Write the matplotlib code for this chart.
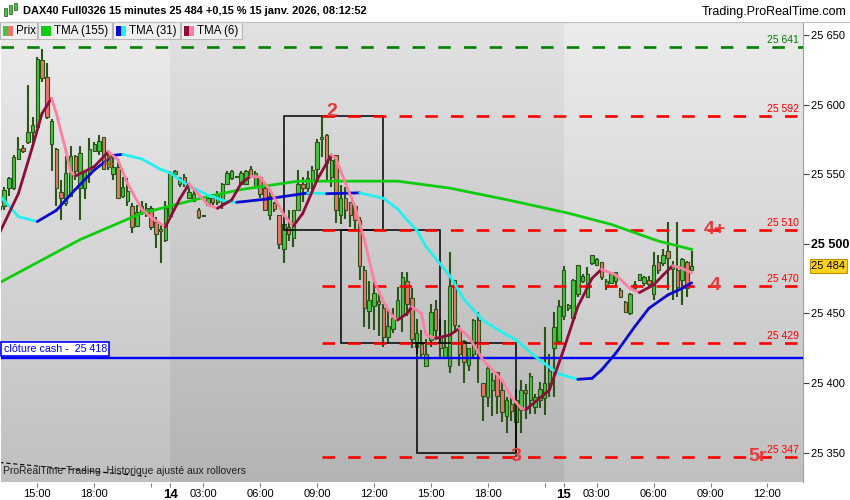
import numpy as np
import pandas as pd
import matplotlib
matplotlib.use("Agg")
import matplotlib.pyplot as plt
from matplotlib.patches import Rectangle
from matplotlib.collections import LineCollection
from matplotlib.transforms import blended_transform_factory

plt.rcParams['font.family'] = ['Liberation Sans', 'DejaVu Sans']
plt.rcParams['lines.scale_dashes'] = False

# 15 minute bars, the chart skips the closed hours (22:00 - 01:15)
def session(day, start, end):
    return list(pd.date_range("2026-01-%02d %s" % (day, start), "2026-01-%02d %s" % (day, end), freq="15min"))

bar_times = session(13, "13:00", "21:45") + session(14, "01:15", "21:45") + session(15, "01:15", "13:45")

opens = [25525, 25527, 25540, 25540, 25561, 25569, 25573, 25580, 25584, 25632,
         25620, 25572, 25568, 25537, 25529, 25534, 25563, 25540, 25540, 25551,
         25567, 25567, 25577, 25555, 25550, 25555, 25534, 25531, 25527, 25513,
         25522, 25521, 25526, 25516, 25511, 25503,
         25520, 25550, 25543, 25548, 25533, 25531, 25524, 25520, 25528, 25533,
         25530, 25529, 25543, 25547, 25548, 25543, 25543, 25554, 25541, 25548,
         25540, 25521, 25529, 25521, 25496, 25512, 25504, 25524, 25543, 25540,
         25546, 25554, 25575, 25578, 25548, 25564, 25521, 25533, 25530, 25527,
         25517, 25481, 25452, 25455, 25459, 25454, 25433, 25439, 25447, 25449,
         25473, 25461, 25426, 25428, 25412, 25431, 25453, 25433, 25419, 25412,
         25474, 25438, 25430, 25413, 25421, 25445, 25400, 25390, 25395, 25408,
         25395, 25376, 25385, 25372, 25381, 25395, 25388, 25383, 25388, 25389,
         25400, 25425, 25430,
         25448, 25454, 25447, 25464, 25473, 25462, 25486, 25485, 25487, 25469,
         25472, 25473, 25467, 25458, 25450, 25468, 25474, 25472, 25474, 25464,
         25487, 25486, 25495, 25482, 25481, 25474, 25487, 25481]
highs = [25530, 25541, 25548, 25564, 25577, 25571, 25614, 25591, 25634, 25640,
         25630, 25590, 25569, 25546, 25563, 25570, 25564, 25570, 25553, 25576,
         25573, 25578, 25577, 25566, 25563, 25559, 25548, 25547, 25529, 25528,
         25531, 25529, 25527, 25519, 25514, 25531,
         25552, 25553, 25548, 25550, 25541, 25540, 25526, 25521, 25535, 25536,
         25538, 25544, 25552, 25553, 25549, 25552, 25553, 25556, 25552, 25549,
         25544, 25538, 25530, 25521, 25514, 25524, 25524, 25553, 25548, 25552,
         25556, 25575, 25591, 25579, 25564, 25564, 25542, 25541, 25530, 25527,
         25519, 25484, 25473, 25473, 25464, 25457, 25453, 25454, 25469, 25480,
         25480, 25468, 25446, 25438, 25432, 25457, 25460, 25446, 25445, 25494,
         25474, 25442, 25431, 25425, 25446, 25451, 25400, 25412, 25407, 25408,
         25402, 25390, 25390, 25396, 25402, 25399, 25407, 25392, 25401, 25440,
         25421, 25451, 25460,
         25484, 25457, 25475, 25485, 25478, 25483, 25492, 25490, 25487, 25475,
         25480, 25480, 25468, 25459, 25465, 25473, 25478, 25477, 25477, 25494,
         25492, 25496, 25516, 25488, 25516, 25490, 25488, 25495]
lows = [25520, 25524, 25534, 25539, 25560, 25565, 25572, 25572, 25583, 25616,
        25590, 25552, 25527, 25517, 25527, 25534, 25546, 25517, 25532, 25544,
        25566, 25564, 25554, 25553, 25546, 25533, 25533, 25527, 25508, 25512,
        25521, 25519, 25510, 25497, 25486, 25501,
        25519, 25548, 25541, 25541, 25532, 25530, 25518, 25519, 25527, 25528,
        25528, 25525, 25542, 25546, 25547, 25542, 25542, 25548, 25540, 25533,
        25524, 25517, 25523, 25496, 25486, 25502, 25498, 25524, 25530, 25535,
        25539, 25546, 25562, 25545, 25541, 25515, 25514, 25518, 25512, 25510,
        25474, 25440, 25439, 25438, 25434, 25426, 25428, 25436, 25445, 25437,
        25448, 25425, 25421, 25419, 25412, 25426, 25431, 25419, 25418, 25407,
        25436, 25412, 25400, 25409, 25419, 25400, 25373, 25383, 25376, 25378,
        25372, 25364, 25373, 25347, 25364, 25374, 25378, 25378, 25382, 25377,
        25390, 25390, 25428,
        25445, 25452, 25447, 25462, 25472, 25462, 25485, 25484, 25474, 25467,
        25471, 25470, 25461, 25450, 25449, 25467, 25473, 25470, 25469, 25460,
        25478, 25484, 25467, 25460, 25462, 25456, 25462, 25481]
closes = [25527, 25539, 25547, 25562, 25568, 25567, 25580, 25585, 25633, 25619,
          25591, 25588, 25540, 25533, 25551, 25563, 25552, 25565, 25552, 25568,
          25572, 25574, 25554, 25562, 25555, 25533, 25541, 25538, 25512, 25523,
          25527, 25526, 25512, 25507, 25509, 25526,
          25551, 25552, 25547, 25543, 25537, 25536, 25519, 25520, 25533, 25530,
          25535, 25543, 25551, 25552, 25548, 25551, 25552, 25549, 25551, 25536,
          25524, 25534, 25525, 25500, 25514, 25507, 25524, 25543, 25540, 25547,
          25553, 25573, 25577, 25558, 25560, 25524, 25533, 25524, 25521, 25517,
          25484, 25454, 25460, 25465, 25457, 25433, 25441, 25447, 25460, 25476,
          25457, 25432, 25436, 25421, 25421, 25451, 25438, 25425, 25426, 25470,
          25442, 25421, 25415, 25425, 25445, 25421, 25391, 25411, 25402, 25391,
          25379, 25388, 25380, 25388, 25395, 25393, 25405, 25390, 25396, 25400,
          25409, 25440, 25455,
          25481, 25456, 25474, 25485, 25477, 25478, 25492, 25489, 25476, 25473,
          25478, 25480, 25462, 25451, 25464, 25471, 25478, 25476, 25471, 25485,
          25481, 25492, 25490, 25484, 25469, 25489, 25468, 25484]

# moving averages (bar index, value)
tma155_i = [0, 17, 30, 44, 51, 63, 67, 84, 95, 108, 120, 129, 139, 146]
tma155_v = [25472, 25503, 25522, 25534, 25539, 25545, 25545, 25545, 25540, 25531,
            25522, 25514, 25502, 25496]
tma31_i = [0, 4, 8, 12, 16, 20, 24, 26, 30, 34, 36, 40, 44, 48, 50, 56, 60, 65, 69,
           76, 81, 84, 86, 88, 90, 95, 98, 102, 107, 109, 113, 118, 122, 125, 127,
           130, 134, 137, 141, 144, 146]
tma31_v = [25535, 25519.5, 25516, 25524, 25539, 25553, 25563.5, 25564.3, 25561,
           25553.5, 25551, 25541.5, 25535, 25530.3, 25529.8, 25532, 25534, 25536.5,
           25536, 25536.6, 25532.7, 25525, 25517, 25510, 25498, 25477, 25460, 25445,
           25434.5, 25431, 25419, 25406.5, 25402.7, 25403.4, 25409.4, 25421.4,
           25440.5, 25453.7, 25463.3, 25468, 25472]
tma6_i = [0, 4, 7, 9, 11, 12, 14, 15, 16, 20, 23, 25, 27, 30, 32, 35, 38, 40, 42, 44,
          46, 49, 51, 53, 55, 57, 60, 62, 64, 67, 70, 71, 73, 75, 77, 79, 81, 83, 84,
          86, 87, 89, 90, 92, 95, 97, 99, 102, 106, 108, 110, 111, 116, 119, 122,
          125, 127, 130, 133, 135, 138, 140, 142, 144, 146]
tma6_v = [25507.6, 25536, 25570, 25593.7, 25604.5, 25593.7, 25567.4, 25551.8,
          25548.7, 25555.4, 25566.2, 25560.2, 25543.5, 25525, 25519, 25512, 25532,
          25543, 25535.5, 25528, 25525.5, 25531.5, 25543.5, 25548.5, 25548, 25539,
          25520.7, 25512.8, 25521.9, 25545.8, 25563.8, 25561.4, 25543.5, 25526.7,
          25502.8, 25474, 25458.5, 25447.7, 25445.3, 25450, 25454.9, 25450,
          25434.5, 25432.1, 25434.5, 25439.3, 25433.3, 25416.6, 25402.2, 25390,
          25382, 25380.8, 25395, 25423.8, 25454.9, 25475.2, 25481.7, 25477.6,
          25468, 25465, 25470.5, 25477.6, 25484.3, 25482.4, 25479.3]

# horizontal levels drawn on the chart
red_levels = [25592, 25510, 25470, 25429, 25347]
red_start = 68
green_level = 25641
cash_level = 25418
last_price = 25484
# boxes: (first bar, last bar, top, bottom)
boxes = [(60, 81, 25592, 25510), (72, 93, 25510, 25429), (88, 109, 25429, 25350)]
marks = [("2", 70, 25592), ("3", 109, 25347), ("4+", 151, 25510), ("4", 151, 25470), ("5r", 160, 25347)]
trend_x = [0, 31]
trend_y = [25343, 25333]

W, H = 850, 500
fig = plt.figure(figsize=(W / 100, H / 100), dpi=100)
fig.patch.set_facecolor("white")
ax = fig.add_axes([1 / W, 1 - 482.5 / H, 802 / W, 460.5 / H])
ymin, ymax = 25328.6, 25659.3
xmin, xmax = 0.34, 169.5
ax.set_xlim(xmin, xmax)
ax.set_ylim(ymin, ymax)

# day zones with vertical gradient
days = [t.day for t in bar_times]
starts = [0] + [k for k in range(1, len(days)) if days[k] != days[k - 1]]
edges = [xmin] + starts[1:] + [xmax]
for z in range(len(edges) - 1):
    if z % 2 == 0:
        top, bot = np.array([236, 236, 236]), np.array([192, 192, 192])
    else:
        top, bot = np.array([226, 226, 226]), np.array([180, 180, 180])
    t = np.linspace(0, 1, 200)[:, None]
    grad = (top * (1 - t) + bot * t) / 255.0
    ax.imshow(grad[:, None, :], extent=[edges[z], edges[z + 1], ymin, ymax],
              aspect="auto", origin="upper", zorder=0, interpolation="bilinear")

idx = np.arange(len(closes))
o = np.array(opens, float)
c = np.array(closes, float)
dark = "#2b5418"
ax.vlines(idx, lows, highs, color=dark, lw=1.5, zorder=3)
body_col = np.where(c >= o, "#45c43f", "#e8766c")
ax.bar(idx, np.maximum(np.abs(c - o), 0.8), bottom=np.minimum(o, c), width=0.72,
       color=body_col, edgecolor=dark, linewidth=0.8, zorder=3.1)

# levels
ax.plot([xmin, xmax], [green_level, green_level], color="#008000", lw=1.9, dashes=(9, 9.5), zorder=4)
for lv in red_levels:
    ax.plot([red_start, xmax], [lv, lv], color="#ff0000", lw=1.9, dashes=(9, 9.5), zorder=4)
ax.axhline(cash_level, color="#0000ff", lw=1.7, zorder=4)
ax.plot(trend_x, trend_y, color="black", lw=0.8, dashes=(3, 2), zorder=4)

for b0, b1, top_, bot_ in boxes:
    ax.add_patch(Rectangle((b0, bot_), b1 - b0, top_ - bot_, fill=False, ec="black", lw=1.1, zorder=3.5))

def colored(ix, vals, up, down, lw):
    pts = np.column_stack([ix, vals])
    segs = np.stack([pts[:-1], pts[1:]], axis=1)
    cols = [up if vals[k + 1] >= vals[k] else down for k in range(len(vals) - 1)]
    ax.add_collection(LineCollection(segs, colors=cols, linewidths=lw, capstyle="round", zorder=5))

ax.plot(tma155_i, tma155_v, color="#10cc10", lw=2.0, zorder=5)
colored(tma31_i, tma31_v, "#0a0ad0", "#22f0f0", 2.0)
colored(tma6_i, tma6_v, "#8c0c3a", "#ff7fa0", 2.0)

# texts on the chart
bt = blended_transform_factory(ax.transAxes, ax.transData)
for lv in red_levels:
    ax.annotate("%d %03d" % (lv // 1000, lv % 1000), (0.995, lv), xycoords=bt, xytext=(0, 1.5),
                textcoords="offset points", ha="right", va="bottom", fontsize=7.5, color="#ff0000", zorder=6)
ax.annotate("%d %03d" % (green_level // 1000, green_level % 1000), (0.995, green_level), xycoords=bt,
            xytext=(0, 1.5), textcoords="offset points", ha="right", va="bottom", fontsize=7.5,
            color="#008000", zorder=6)
for txt, bx, lv in marks:
    dy = 3 if txt == "2" else 0
    ax.annotate(txt, (bx, lv), xytext=(0, dy), textcoords="offset points", ha="center", va="center",
                fontsize=14, fontweight="bold", color="#e53838", zorder=7)
ax.text(23, 25558, "4", ha="center", va="center", fontsize=14, fontweight="bold",
        color="#b0581a", alpha=0.85, zorder=7)
ax.annotate("clôture cash -  %d %03d" % (cash_level // 1000, cash_level % 1000), (0.0, cash_level),
            xycoords=bt, xytext=(2, 2.8), textcoords="offset points", ha="left", va="bottom",
            fontsize=7.7, color="#0000ff", zorder=8,
            bbox=dict(boxstyle="square,pad=0.22", fc="white", ec="#0000ff", lw=1.2))
ax.text(0.003, 0.014, "ProRealTime Trading  Historique ajusté aux rollovers", transform=ax.transAxes,
        fontsize=7.5, color="#202020", ha="left", va="bottom", zorder=8)

# axes
for s in ["top", "left", "bottom"]:
    ax.spines[s].set_visible(False)
ax.spines["right"].set_color("#a0a0a0")
ax.yaxis.tick_right()
yt = np.arange(25350, 25651, 50)
ax.set_yticks(yt)
ax.set_yticklabels(["%d %03d" % (v // 1000, v % 1000) for v in yt])
ax.tick_params(axis="y", length=4, width=0.8, color="#404040", labelsize=8, pad=2)
for lab, v in zip(ax.get_yticklabels(), yt):
    if v == 25500:
        lab.set_fontweight("bold")
        lab.set_fontsize(9)
ax.annotate("%d %03d" % (last_price // 1000, last_price % 1000), (1.0, last_price), xycoords=bt,
            xytext=(6, 0), textcoords="offset points", ha="left", va="center", fontsize=8,
            annotation_clip=False, bbox=dict(boxstyle="square,pad=0.15", fc="#ffd21a", ec="#b89000", lw=0.8))

tick_pos, tick_lbl, tick_day = [], [], []
for k, tm in enumerate(bar_times):
    if k in starts[1:]:
        tick_pos.append(k); tick_lbl.append(str(tm.day)); tick_day.append(True)
    elif tm.minute == 0 and tm.hour % 3 == 0:
        tick_pos.append(k); tick_lbl.append("" if tm.hour == 21 else tm.strftime("%H:%M")); tick_day.append(False)
ax.set_xticks(tick_pos)
ax.set_xticklabels(tick_lbl)
ax.tick_params(axis="x", length=3, width=0.8, color="#808080", labelsize=8, pad=2)
for lab, d in zip(ax.get_xticklabels(), tick_day):
    if d:
        lab.set_fontweight("bold")
        lab.set_fontsize(9.5)

# header
fig.add_artist(plt.Line2D([0, 1], [1 - 21.5 / H, 1 - 21.5 / H], color="#c0c0c0", lw=0.8))
for k, (x0, y0, y1) in enumerate([(4, 8, 16), (9, 5, 14), (14, 3, 10)]):
    fig.add_artist(Rectangle((x0 / W, 1 - y1 / H), 3 / W, (y1 - y0) / H, fc="#45c43f", ec=dark, lw=0.5))
fig.text(23 / W, 1 - 11 / H, "DAX40 Full0326 15 minutes 25 484 +0,15 % 15 janv. 2026, 08:12:52",
         fontsize=7.9, fontweight="bold", va="center", ha="left")
fig.text(846 / W, 1 - 12 / H, "Trading.ProRealTime.com", fontsize=9, va="center", ha="right")

# legend buttons
legend_items = ["Prix", "TMA (155)", "TMA (31)", "TMA (6)"]
legend_cols = [("#45c43f", "#e8766c"), ("#10cc10", "#10cc10"), ("#0a0ad0", "#22f0f0"), ("#8c0c3a", "#ff7fa0")]
legend_w = [37, 74, 67, 61]
bx = 0
for name, (c1, c2), wbox in zip(legend_items, legend_cols, legend_w):
    fig.add_artist(Rectangle((bx / W, 1 - 39 / H), wbox / W, 17 / H, fc="#efefef", ec="#b8b8b8", lw=0.8))
    fig.add_artist(Rectangle(((bx + 3) / W, 1 - 36 / H), 5 / W, 10 / H, fc=c1, ec="none"))
    fig.add_artist(Rectangle(((bx + 8) / W, 1 - 36 / H), 5 / W, 10 / H, fc=c2, ec="none"))
    fig.text((bx + 16) / W, 1 - 31 / H, name, fontsize=8.3, va="center", ha="left")
    bx += wbox + 1

fig.savefig("out.png", dpi=100)
